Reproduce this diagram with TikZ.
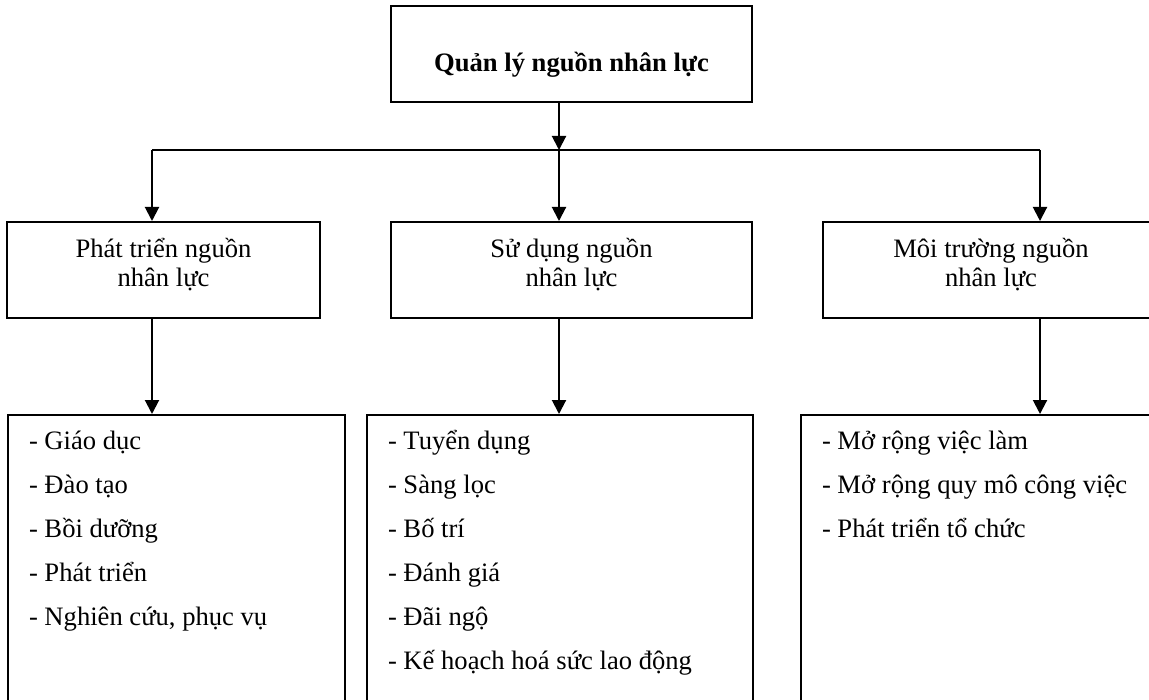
\documentclass[tikz,border=0pt]{standalone}
\usepackage{fontspec}
\setmainfont{Liberation Serif}
\usetikzlibrary{arrows.meta,positioning}

\begin{document}
\begin{tikzpicture}[x=0.5pt,y=-0.5pt,
    box/.style={draw,line width=1pt,inner sep=0pt,font=\fontsize{13.3}{14.5}\selectfont},
    head/.style={box,minimum width=180.5pt,minimum height=48pt,font=\fontsize{13.3}{14.5}\selectfont\bfseries,text height=18pt,text depth=0pt},
    group/.style={box},
    list/.style={box,anchor=north west,inner xsep=10.5pt,font=\fontsize{13.3}{22}\selectfont},
    link/.style={line width=1pt,-{Triangle[length=7pt,width=7pt]}}]
        \useasboundingbox (0,0) rectangle (1149,700);
        \clip (0,0) rectangle (1149,700);

        \node[head] (qlnl) at (571.5,54) {Quản lý nguồn nhân lực};

        \node[group] (dev) at (163.5,270) {\parbox[c][48pt][t]{156.5pt}{\centering\rule{0pt}{17.5pt}Phát triển nguồn\\nhân lực}};
        \node[group] (use) at (571.5,270) {\parbox[c][48pt][t]{180.5pt}{\centering\rule{0pt}{17.5pt}Sử dụng nguồn\\nhân lực}};
        \node[group] (env) at (991,270) {\parbox[c][48pt][t]{168pt}{\centering\rule{0pt}{17.5pt}Môi trường nguồn\\nhân lực}};

        \node[list] (devlist) at (7,414) {\parbox[c][153pt][t]{147.5pt}{\rule{0pt}{17pt}- Giáo dục\\- Đào tạo\\- Bồi dưỡng\\- Phát triển\\- Nghiên cứu, phục vụ}};
        \node[list] (uselist) at (366,414) {\parbox[c][153pt][t]{172pt}{\rule{0pt}{17pt}- Tuyển dụng\\- Sàng lọc\\- Bố trí\\- Đánh giá\\- Đãi ngộ\\- Kế hoạch hoá sức lao động}};
        \node[list] (envlist) at (800,414) {\parbox[c][153pt][t]{164pt}{\rule{0pt}{17pt}- Mở rộng việc làm\\- Mở rộng quy mô công việc\\- Phát triển tổ chức}};

        % bus line between the levels
        \coordinate (busL) at (152,150);
        \coordinate (busM) at (559,150);
        \coordinate (busR) at (1040,150);
        \draw[line width=1pt] (busL) -- (busR);
        \draw[link] (qlnl.south -| busM) -- (busM);

        \foreach \bus/\grp in {busL/dev,busM/use,busR/env}
        {
          \draw[link] (\bus) -- (\bus |- \grp.north);
          \draw[link] (\bus |- \grp.south) -- (\bus |- \grp list.north);
        }
\end{tikzpicture}
\end{document}
